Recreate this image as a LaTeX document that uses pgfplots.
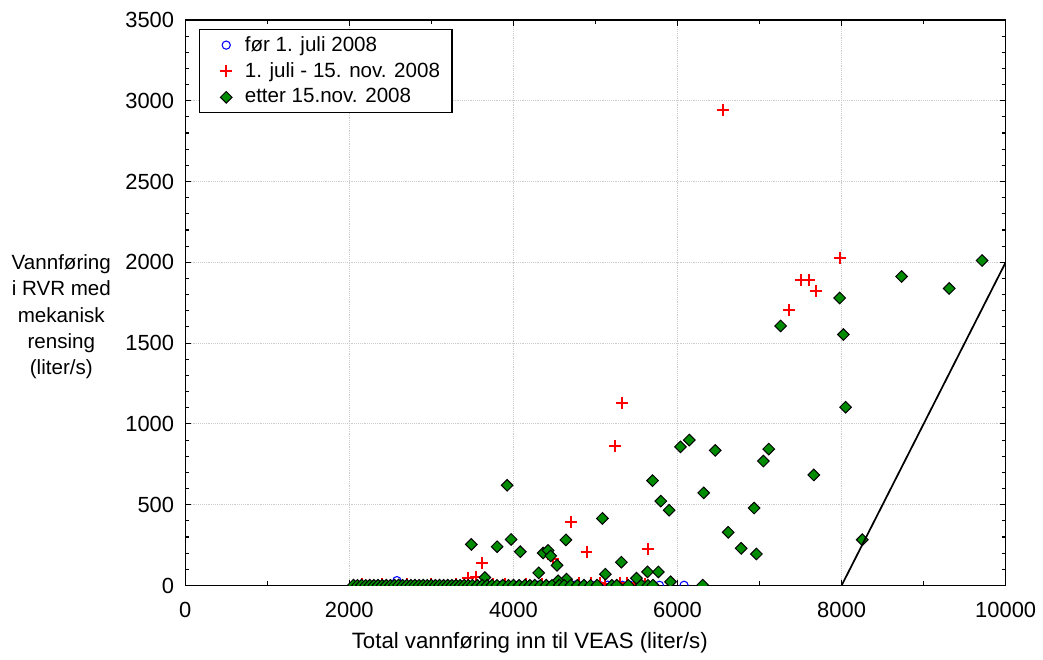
\documentclass[border=0pt]{standalone}
\usepackage{pgfplots}
\pgfplotsset{compat=1.18}
\usepackage{fontspec}
\setmainfont{Liberation Sans}
\definecolor{dgreen}{RGB}{0,140,0}
\pgfplotsset{myleg/.code={\pgfplotsset{legend image code/.code={\path[draw=none,fill=none] (-13pt,0pt) -- (12pt,0pt); \draw[##1, only marks] plot coordinates {(0pt,0pt)};}}}}
\begin{document}
\fontsize{15.5}{19}\selectfont
\begin{tikzpicture}
\begin{axis}[
  scale only axis, width=618pt, height=426pt,
  xmin=0, xmax=10000, ymin=0, ymax=3500,
  xtick={0,2000,...,10000}, ytick={0,500,...,3500},
  minor x tick num=1, minor y tick num=4,
  tick align=inside, xtick pos=both, ytick pos=both,
  major tick length=4.5pt, minor tick length=3pt,
  every tick/.style={black, line width=0.8pt},
  axis line style={line width=0.9pt},
  grid=major, grid style={densely dotted, gray!40, line width=0.6pt},
  clip marker paths=true,
  scaled ticks=false,
  /pgf/number format/1000 sep={},
  /pgf/number format/assume math mode=true,
  tick label style={font=\fontsize{16.5}{19}\selectfont},
  xticklabel style={yshift=-7pt},
  yticklabel style={xshift=-3pt},
  legend style={at={(rel axis cs:0.017,0.984)}, anchor=north west, draw=black, line width=0.8pt,
    font=\fontsize{15.5}{19}\selectfont, row sep=2.2pt, inner xsep=7pt, inner ysep=3pt},
  legend cell align=left,
]
\addplot[only marks, mark=o, color=blue, mark size=3.1pt, line width=0.8pt, myleg] coordinates {
(2080,1)(2200,2)(2350,1)(2500,2)(2580,30)(2650,1)(2800,2)(2950,1)(3100,2)(3250,1)(3400,2)(3550,1)(3700,1)(3850,2)(3950,2)(4050,1)(4150,2)(4300,1)(4450,1)(4600,2)(4750,2)(4850,1)(4950,2)(5050,1)(5150,2)(5250,1)(5330,1)(5420,2)(5520,1)(5780,1)(6080,1)
};
\addlegendentry{før 1. juli 2008}
\addplot[only marks, mark=+, color=red, mark size=4.5pt, line width=1.5pt, myleg] coordinates {
(6560,2945)(7985,2027)(7504,1892)(7597,1892)(7686,1822)(7362,1703)(5320,1129)(5234,865)(4700,394)(4891,207)(5635,224)(3620,137)(4478,162)(3447,49)(3548,53)
(2150,8)(2400,10)(2700,7)(3000,9)(3300,8)(3750,10)(3900,12)(4150,10)(4350,9)(4600,12)(4800,14)(4950,15)(5050,14)(5120,12)(5300,15)(5380,14)(5470,12)(5540,13)(5600,10)
};
\addlegendentry{1. juli - 15. nov. 2008}
\addplot[only marks, mark=square*, mark options={rotate=45, fill=dgreen, draw=black, line width=0.75pt}, mark size=3.1pt, myleg] coordinates {
(3924,620)(3487,254)(3802,240)(3972,285)(4640,282)(5085,415)(5696,649)(5797,522)(5898,466)(6036,858)(6144,900)(6319,573)(7977,1779)(7257,1606)(8022,1553)(8731,1912)(9312,1838)(9712,2011)(8049,1103)(6460,836)(7112,844)(7047,770)(7661,684)(6934,479)(6618,329)(6776,230)(6962,195)(8252,283)(4084,209)(4363,201)(4423,217)(4455,183)(4532,125)(4308,78)(5316,144)(5121,70)(5635,84)(5767,84)(3652,49)(5500,45)(4648,39)(4545,29)(5915,23)(6307,2)
(2050,2)(2100,1)(2150,2)(2200,1)(2250,2)(2300,1)(2350,2)(2400,1)(2450,2)(2500,1)(2550,2)(2600,3)(2650,1)(2700,2)(2750,1)(2800,2)(2850,1)(2900,2)(2950,1)(3000,2)(3050,1)(3100,2)(3150,1)(3200,2)(3250,1)(3300,2)(3350,1)(3400,2)(3450,1)(3500,2)(3560,1)(3620,2)(3680,1)(3740,2)(3800,1)(3870,2)(3940,1)(4000,2)(4070,1)(4140,2)(4200,1)(4260,2)(4330,1)(4400,2)(4470,1)(4560,2)(4620,1)(4700,2)(4780,1)(4860,2)(4940,1)(5020,2)(5200,1)(5260,2)(5400,1)(5560,2)(5640,1)(5700,2)
};
\addlegendentry{etter 15.nov. 2008}
\addplot[black, line width=1.3pt, forget plot] coordinates {(8000,0)(10000,2000)};
\coordinate (ylab) at (rel axis cs:-0.151,0.475);
\coordinate (xlab) at (rel axis cs:0.42,-0.1004);
\end{axis}
\node[align=center, font=\fontsize{15.5}{19.8}\selectfont] at (ylab) {Vannføring\\i RVR med\\mekanisk\\rensing\\(liter/s)};
\node[font=\fontsize{16.75}{19}\selectfont] at (xlab) {Total vannføring inn til VEAS (liter/s)};
\path (current axis.south west) ++(-139.5pt,-51.75pt) coordinate (bbl);
\path (current axis.north east) ++(24.75pt,15pt) coordinate (btr);
\path[use as bounding box] (bbl) rectangle (btr);
\end{tikzpicture}
\end{document}
